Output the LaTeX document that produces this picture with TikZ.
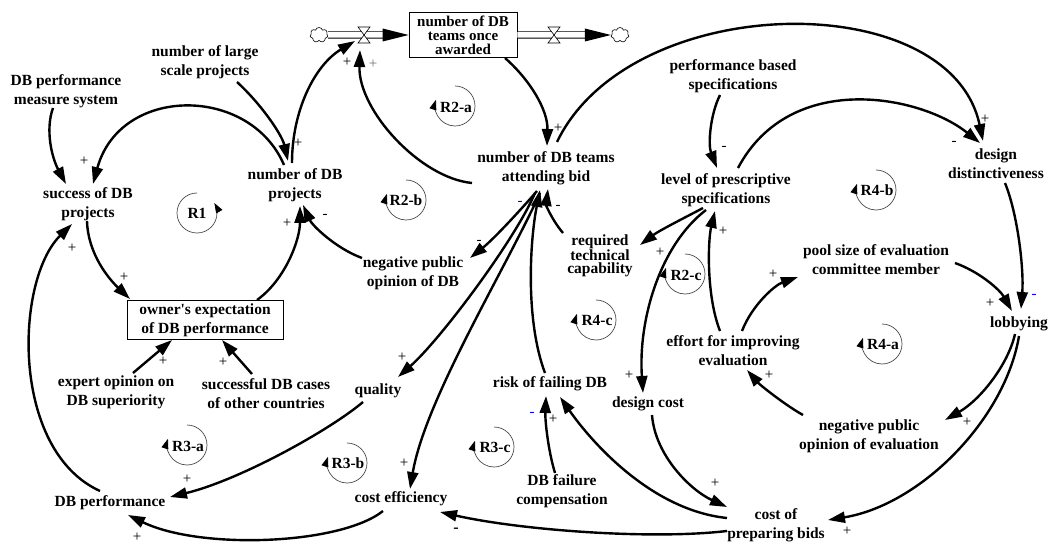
\documentclass[tikz,border=0pt]{standalone}
\usepackage{fontspec}
\setmainfont{Liberation Serif}
\newfontfamily\nomapserif{Liberation Serif}
\usetikzlibrary{arrows.meta,calc,shapes.symbols}
\begin{document}
\begin{tikzpicture}[x=1pt,y=-1pt,
 var/.style={font=\bfseries\fontsize{15.5}{19}\selectfont,align=center,inner sep=1pt},
 lk/.style={line width=2.4pt,-{Triangle[length=17pt,width=11pt]}},
 sg/.style={font=\fontsize{15}{15}\selectfont,inner sep=0pt},
 lpc/.style={line width=0.7pt,black!70,-{Triangle[length=10pt,width=7pt,color=black]}},
 lpt/.style={font=\bfseries\fontsize{15.5}{16}\selectfont,inner sep=0pt},
 valvesh/.style={fill=white,draw=black,line width=0.6pt},
 cloudsh/.style={cloud,draw,cloud puffs=7,aspect=1.2,minimum width=18pt,minimum height=15pt,inner sep=0pt,line width=0.6pt},
 pipe/.style={line width=0.8pt,double distance=5.5pt},
]
\useasboundingbox (0,0) rectangle (1049,553);
\fill[white] (0,0) rectangle (1049,553);

% variables
\node[var] (dbpms) at (66,91) {DB performance\\measure system};
\node[var] (nlarge) at (205,62) {number of large\\scale projects};
\node[var] (succ) at (88,204) {success of DB\\projects};
\node[var] (ndbp) at (295,185) {number of DB\\projects};
\node[var,draw,line width=0.8pt,minimum width=156pt,minimum height=39pt] (owner) at (205,320) {owner{\nomapserif\bfseries '}s expectation\\of DB performance};
\node[var] (expert) at (116,392) {expert opinion on\\DB superiority};
\node[var] (cases) at (266,394) {successful DB cases\\of other countries};
\node[var] (dbperf) at (110,503) {DB performance};
\node[var] (quality) at (378,391) {quality};
\node[var] (costeff) at (401,499) {cost efficiency};
\node[var] (negDB) at (413,273) {negative public\\opinion of DB};
\node[var] (teams) at (546,168) {number of DB teams\\attending bid};
\node[var,draw,line width=0.8pt,minimum width=108pt,minimum height=45pt,inner sep=0pt,font=\bfseries\fontsize{15}{13.8}\selectfont] (stock) at (463,35) {number of DB\\teams once\\awarded};
\node[var,font=\bfseries\fontsize{15.5}{13.5}\selectfont] (rtc) at (600,256) {required\\technical\\capability};
\node[var] (lps) at (726,190) {level of prescriptive\\specifications};
\node[var] (pbs) at (733,76) {performance based\\specifications};
\node[var] (dd) at (996,164) {design\\distinctiveness};
\node[var] (pool) at (876,260) {pool size of evaluation\\committee member};
\node[var] (lobby) at (1019,324) {lobbying};
\node[var] (effort) at (733,351) {effort for improving\\evaluation};
\node[var] (negEval) at (869,436) {negative public\\opinion of evaluation};
\node[var] (dcost) at (648,404) {design cost};
\node[var] (cpb) at (776,525) {cost of\\preparing bids};
\node[var] (risk) at (550,384) {risk of failing DB};
\node[var] (dbfc) at (562,491) {DB failure\\compensation};

% stock and flows
\node[cloudsh] (cloud1) at (319,35) {};
\node[cloudsh] (cloud2) at (620,35) {};
\coordinate (valve1) at (364,35);
\coordinate (valve2) at (554,35);
\draw[pipe] (cloud1.east) -- ($(stock.west)+(-24,0)$);
\fill (stock.west) -- +(-26,-6.5) -- +(-26,6.5) -- cycle;
\draw[pipe] (stock.east) -- ($(cloud2.west)+(-24,0)$);
\fill (cloud2.west) -- +(-26,-6.5) -- +(-26,6.5) -- cycle;
\draw[valvesh] ($(valve1)+(-6,-8)$) -- ($(valve1)+(6,-8)$) -- ($(valve1)+(-6,8)$) -- ($(valve1)+(6,8)$) -- cycle;
\draw[valvesh] ($(valve2)+(-6,-8)$) -- ($(valve2)+(6,-8)$) -- ($(valve2)+(-6,8)$) -- ($(valve2)+(6,8)$) -- cycle;

% links
\draw[lk] ($(dbpms)+(-13,17)$) .. controls (45,130) and (52,158) .. ($(succ)+(-22,-20)$);
\draw[lk] ($(ndbp)+(-11,-20)$) .. controls (250,85) and (120,85) .. ($(succ)+(5,-20)$);
\draw[lk] ($(nlarge)+(32,20)$) .. controls (262,105) and (282,135) .. ($(ndbp)+(-7,-24)$);
\draw[lk] ($(ndbp)+(-3,-22)$) .. controls (292,110) and (315,65) .. ($(valve1)+(-9,6)$);
\draw[lk] ($(teams)+(-74,15)$) .. controls (420,178) and (358,110) .. ($(valve1)+(-4,15)$);
\draw[lk] ($(stock)+(42,23)$) .. controls (530,80) and (548,110) .. ($(teams)+(1,-22)$);
\draw[lk] ($(teams)+(11,-26)$) .. controls (630,-10) and (950,-15) .. ($(dd)+(-13,-23)$);
\draw[lk] ($(lps)+(12,-22)$) .. controls (790,70) and (920,95) .. ($(dd)+(-16,-21)$);
\draw[lk] ($(pbs)+(-13,19)$) .. controls (710,115) and (708,145) .. ($(lps)+(-9,-22)$);
\draw[lk] ($(dd)+(9,19)$) .. controls (1018,215) and (1024,270) .. ($(lobby)+(2,-15)$);
\draw[lk] ($(pool)+(79,3)$) .. controls (980,272) and (1000,290) .. ($(lobby)+(-7,-13)$);
\draw[lk] ($(lobby)+(-4,10)$) .. controls (1008,365) and (980,400) .. ($(negEval)+(76,-16)$);
\draw[lk] ($(lobby)+(0,12)$) .. controls (1005,420) and (920,505) .. ($(cpb)+(52,-5)$);
\draw[lk] ($(negEval)+(-66,-21)$) .. controls (785,405) and (760,385) .. ($(effort)+(14,19)$);
\draw[lk] ($(effort)+(9,-20)$) .. controls (752,305) and (775,285) .. ($(pool)+(-78,17)$);
\draw[lk] ($(effort)+(-13,-20)$) .. controls (706,295) and (708,240) .. ($(lps)+(-11,21)$);
\draw[lk] ($(lps)+(-23,18)$) .. controls (690,215) and (660,230) .. ($(rtc)+(40,-11)$);
\draw[lk] ($(lps)+(-20,20)$) .. controls (660,245) and (638,320) .. ($(dcost)+(-5,-11)$);
\draw[lk] ($(rtc)+(-37,-23)$) .. controls (552,220) and (546,205) .. ($(teams)+(2,21)$);
\draw[lk] ($(teams)+(-9,23)$) .. controls (525,205) and (495,238) .. ($(negDB)+(57,-15)$);
\draw[lk] ($(negDB)+(-51,-15)$) .. controls (335,248) and (312,225) .. ($(ndbp)+(8,20)$);
\draw[lk] ($(owner)+(52,-20)$) .. controls (285,280) and (300,240) .. ($(ndbp)+(5,21)$);
\draw[lk] ($(succ)+(-1,17)$) .. controls (88,255) and (110,280) .. ($(owner)+(-75,-21)$);
\draw[lk] ($(dbperf)+(-10,-12)$) .. controls (10,450) and (15,280) .. ($(succ)+(-16,20)$);
\draw[lk] ($(expert)+(17,-19)$) -- ($(owner)+(-33,20)$);
\draw[lk] ($(cases)+(-14,-20)$) -- ($(owner)+(17,20)$);
\draw[lk] ($(quality)+(-15,11)$) .. controls (330,430) and (240,480) .. ($(dbperf)+(60,-6)$);
\draw[lk] ($(costeff)+(-18,12)$) .. controls (340,545) and (200,550) .. ($(dbperf)+(18,12)$);
\draw[lk] ($(teams)+(-11,25)$) .. controls (515,240) and (440,340) .. ($(quality)+(20,-14)$);
\draw[lk] ($(teams)+(-6,25)$) .. controls (505,270) and (425,400) .. ($(costeff)+(9,-10)$);
\draw[lk] ($(risk)+(-5,-11)$) .. controls (525,320) and (530,240) .. ($(teams)+(-6,22)$);
\draw[lk] ($(dbfc)+(-7,-18)$) .. controls (548,450) and (545,420) .. ($(risk)+(-4,12)$);
\draw[lk] ($(cpb)+(-49,-7)$) .. controls (650,510) and (590,440) .. ($(risk)+(10,13)$);
\draw[lk] ($(cpb)+(-49,6)$) .. controls (650,540) and (520,530) .. ($(costeff)+(39,13)$);
\draw[lk] ($(dcost)+(4,11)$) .. controls (655,455) and (690,490) .. ($(cpb)+(-49,-18)$);

% polarity signs
\node[sg] (p1) at (84,161) {+};
\node[sg] (p2) at (298,143) {+};
\node[sg] (p3) at (347,62) {+};
\node[sg,black!55] (p4) at (373,64) {+};
\node[sg] (p5) at (558,128) {+};
\node[sg] (p6) at (985,119) {+};
\node[sg] (p7) at (954,143) {-};
\node[sg] (p8) at (724,148) {-};
\node[sg,blue] (p9) at (1034,296) {-};
\node[sg] (p10) at (990,303) {+};
\node[sg] (p11) at (967,422) {+};
\node[sg] (p12) at (847,531) {+};
\node[sg] (p13) at (769,375) {+};
\node[sg] (p14) at (773,274) {+};
\node[sg] (p15) at (723,231) {+};
\node[sg] (p16) at (660,252) {+};
\node[sg] (p17) at (629,375) {+};
\node[sg] (p18) at (558,207) {-};
\node[sg] (p19) at (479,242) {-};
\node[sg] (p20) at (325,216) {-};
\node[sg] (p21) at (287,223) {+};
\node[sg] (p22) at (124,277) {+};
\node[sg] (p23) at (72,248) {+};
\node[sg] (p24) at (163,361) {+};
\node[sg] (p25) at (223,362) {+};
\node[sg] (p26) at (187,479) {+};
\node[sg] (p27) at (137,537) {+};
\node[sg] (p28) at (402,357) {+};
\node[sg] (p29) at (404,463) {+};
\node[sg,blue] (p30) at (520,203) {-};
\node[sg,blue] (p31) at (532,414) {-};
\node[sg] (p32) at (553,419) {+};
\node[sg,font=\bfseries\fontsize{16}{16}\selectfont] (p33) at (456,530) {-};
\node[sg] (p34) at (715,483) {+};

% loop markers
\coordinate (cR1) at (197,213);
\coordinate (cR2a) at (455,106);
\coordinate (cR2b) at (406,200);
\coordinate (cR2c) at (685,274);
\coordinate (cR3a) at (187,445);
\coordinate (cR3b) at (347,463);
\coordinate (cR3c) at (494,447);
\coordinate (cR4a) at (882,344);
\coordinate (cR4b) at (876,190);
\coordinate (cR4c) at (596,320);
\draw[lpc] ($(cR1)+(0,-20)$) arc[start angle=-90,end angle=-390,radius=20];
\foreach \c in {cR2a,cR2b,cR2c,cR3a,cR3b,cR3c,cR4a,cR4b,cR4c}
  \draw[lpc] ($(\c)+(0,-20)$) arc[start angle=-90,end angle=198,radius=20];
\node[lpt] (R1) at (197,213) {R1};
\node[lpt] (R2a) at (456,107) {R2-a};
\node[lpt] (R2b) at (406,200) {R2-b};
\node[lpt] (R2c) at (686,275) {R2-c};
\node[lpt] (R3a) at (188,446) {R3-a};
\node[lpt] (R3b) at (348,463) {R3-b};
\node[lpt] (R3c) at (495,447) {R3-c};
\node[lpt] (R4a) at (883,344) {R4-a};
\node[lpt] (R4b) at (877,190) {R4-b};
\node[lpt] (R4c) at (597,320) {R4-c};
\end{tikzpicture}
\end{document}
